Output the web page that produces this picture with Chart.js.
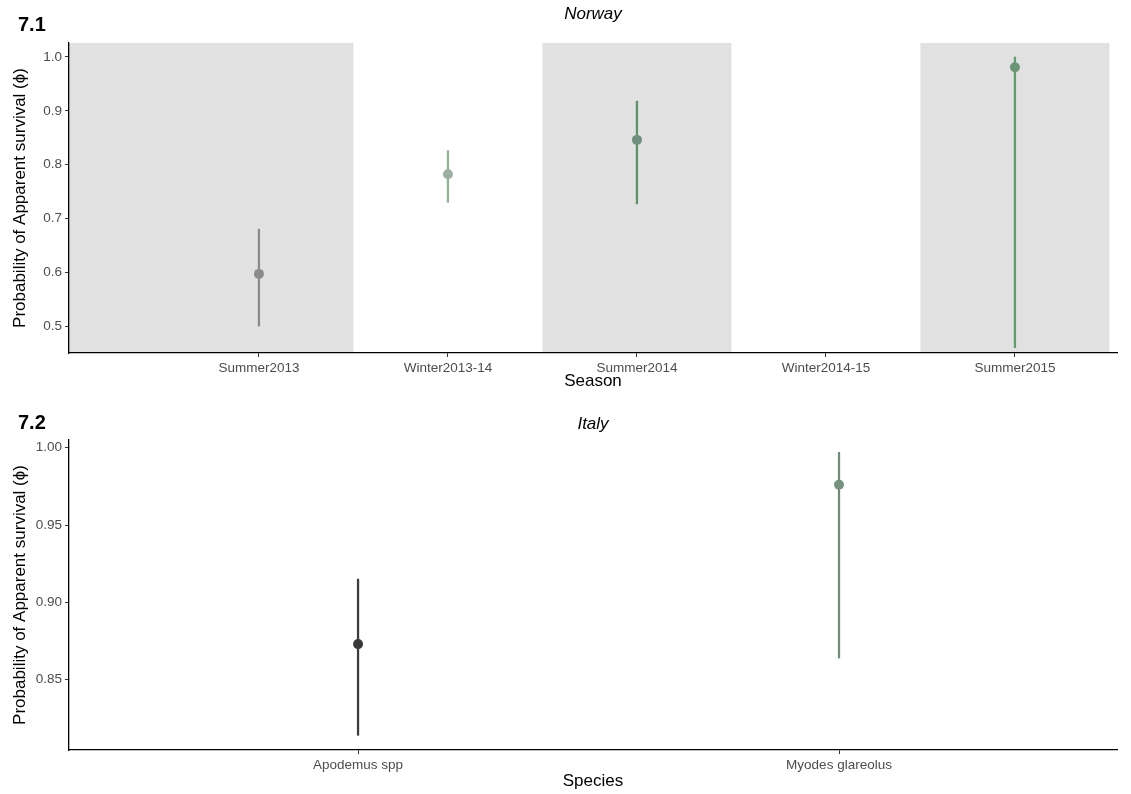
<!DOCTYPE html>
<html>
<head>
<meta charset="utf-8">
<script src="https://cdn.jsdelivr.net/npm/chart.js@4.4.0/dist/chart.umd.min.js"></script>
<style>
    body { margin: 0; background: #fff; width: 1131px; height: 794px; overflow: hidden; }
    canvas { position: absolute; left: 0; }
    #norwayChart { top: 0; }
    #italyChart { top: 400px; }
</style>
</head>
<body>
<canvas id="norwayChart" width="1131" height="398"></canvas>
<canvas id="italyChart" width="1131" height="394"></canvas>
<script>
// ============================================
// DATA
// ============================================

const seasons = ['Summer2013', 'Winter2013-14', 'Summer2014', 'Winter2014-15', 'Summer2015'];
const norwayEstimate = [0.597, 0.782, 0.846, null, 0.981];
const norwayLower = [0.500, 0.730, 0.727, null, 0.460];
const norwayUpper = [0.680, 0.826, 0.918, null, 1.000];
const norwayPointColors = ['#8b8b8b', '#9cae9f', '#70907f', null, '#6b9376'];
const norwayLineColors = ['#8a8a8a', '#8fb095', '#5f9268', null, '#5f9e6a'];
// summer periods shaded grey (in category units)
const summerRanges = [[-0.1, 1.5], [2.5, 3.5], [4.5, 5.5]];
const norwayTicks = [0.5, 0.6, 0.7, 0.8, 0.9, 1.0];

const species = ['Apodemus spp', 'Myodes glareolus'];
const italyEstimate = [0.873, 0.976];
const italyLower = [0.814, 0.864];
const italyUpper = [0.915, 0.997];
const italyPointColors = ['#3a3a3a', '#77917f'];
const italyLineColors = ['#3c3c3c', '#6f8c79'];
const italyTicks = [0.85, 0.90, 0.95, 1.00];

const FONT = "'Liberation Sans', Arial, sans-serif";

// ============================================
// PLUGINS
// ============================================

const shadePlugin = {
    id: 'shade',
    beforeDraw(chart, args, opts) {
        if (!opts.ranges) return;
        const { ctx, chartArea, scales: { x } } = chart;
        ctx.save();
        ctx.fillStyle = opts.color;
        opts.ranges.forEach(r => {
            const x0 = Math.max(chartArea.left, x.getPixelForValue(r[0]));
            const x1 = Math.min(chartArea.right, x.getPixelForValue(r[1]));
            ctx.fillRect(x0, chartArea.top, x1 - x0, chartArea.bottom - chartArea.top);
        });
        ctx.restore();
    }
};

const panelPlugin = {
    id: 'panel',
    afterDraw(chart, args, opts) {
        const { ctx, chartArea } = chart;
        ctx.save();
        ctx.textBaseline = 'middle';
        ctx.fillStyle = '#000';
        ctx.textAlign = 'left';
        ctx.font = 'bold 20px ' + FONT;
        ctx.fillText(opts.tag, 18, opts.tagY);
        ctx.textAlign = 'center';
        ctx.font = 'italic 17px ' + FONT;
        ctx.fillText(opts.title, (chartArea.left + chartArea.right) / 2, opts.titleY);
        ctx.restore();
    }
};

// ============================================
// BUILD CHART
// ============================================

function buildChart(canvasId, cfg) {
    const bars = [];
    const points = [];
    const barColors = [];
    const ptColors = [];
    cfg.labels.forEach((lab, i) => {
        if (cfg.est[i] == null) return;
        bars.push({ x: i + 1, y: [cfg.lo[i], cfg.hi[i]] });
        points.push({ x: i + 1, y: cfg.est[i] });
        barColors.push(cfg.lineColors[i]);
        ptColors.push(cfg.pointColors[i]);
    });

    return new Chart(document.getElementById(canvasId), {
        type: 'bar',
        data: {
            datasets: [
                {
                    type: 'scatter',
                    data: points,
                    pointRadius: 5,
                    pointBackgroundColor: ptColors,
                    pointBorderColor: ptColors,
                    pointBorderWidth: 0,
                    order: 0
                },
                {
                    type: 'bar',
                    data: bars,
                    backgroundColor: barColors,
                    barThickness: 1.6,
                    grouped: false,
                    order: 1
                }
            ]
        },
        options: {
            responsive: false,
            animation: false,
            layout: { padding: { top: cfg.top, right: 14, left: 0, bottom: 0 } },
            plugins: {
                legend: { display: false },
                tooltip: { enabled: false },
                shade: { ranges: cfg.shade, color: '#e1e1e1' },
                panel: { tag: cfg.tag, title: cfg.title, tagY: cfg.tagY, titleY: cfg.titleY }
            },
            scales: {
                x: {
                    type: 'linear',
                    offset: false,
                    min: cfg.xMin,
                    max: cfg.xMax,
                    afterBuildTicks: s => { s.ticks = cfg.labels.map((l, i) => ({ value: i + 1 })); },
                    afterFit: s => { s.height = cfg.xHeight; },
                    grid: { display: true, offset: false, drawOnChartArea: false, drawTicks: true, tickLength: 4, color: '#333' },
                    border: { display: true, color: '#000', width: 1.3 },
                    ticks: {
                        color: '#4d4d4d',
                        font: { family: FONT, size: 13.5 },
                        padding: 3,
                        maxRotation: 0,
                        autoSkip: false,
                        callback: v => cfg.labels[Math.round(v) - 1]
                    },
                    title: {
                        display: true,
                        text: cfg.xTitle,
                        color: '#000',
                        font: { family: FONT, size: 17 },
                        padding: { top: 0, bottom: cfg.xTitlePad }
                    }
                },
                y: {
                    type: 'linear',
                    min: cfg.yMin,
                    max: cfg.yMax,
                    afterBuildTicks: s => { s.ticks = cfg.yTicks.map(v => ({ value: v })); },
                    afterFit: s => { s.width = 69; },
                    grid: { display: true, drawOnChartArea: false, drawTicks: true, tickLength: 4, color: '#333' },
                    border: { display: true, color: '#000', width: 1.3 },
                    ticks: {
                        color: '#4d4d4d',
                        font: { family: FONT, size: 13.5 },
                        padding: 3,
                        callback: v => v.toFixed(cfg.decimals)
                    },
                    title: {
                        display: true,
                        text: 'Probability of Apparent survival (\u03d5)',
                        color: '#000',
                        font: { family: FONT, size: 17 },
                        padding: { top: 10, bottom: 0 }
                    }
                }
            }
        },
        plugins: [shadePlugin, panelPlugin]
    });
}

// ============================================
// INIT
// ============================================

buildChart('norwayChart', {
    labels: seasons, est: norwayEstimate, lo: norwayLower, hi: norwayUpper,
    pointColors: norwayPointColors, lineColors: norwayLineColors,
    shade: summerRanges,
    xMin: -0.005, xMax: 5.54, yMin: 0.45, yMax: 1.026, yTicks: norwayTicks, decimals: 1,
    top: 43, xHeight: 45, xTitle: 'Season', xTitlePad: 6,
    tag: '7.1', title: 'Norway', tagY: 25, titleY: 14
});

buildChart('italyChart', {
    labels: species, est: italyEstimate, lo: italyLower, hi: italyUpper,
    pointColors: italyPointColors, lineColors: italyLineColors,
    shade: null,
    xMin: 0.399, xMax: 2.578, yMin: 0.8045, yMax: 1.005, yTicks: italyTicks, decimals: 2,
    top: 40, xHeight: 44, xTitle: 'Species', xTitlePad: 2,
    tag: '7.2', title: 'Italy', tagY: 23, titleY: 24
});
</script>
</body>
</html>
